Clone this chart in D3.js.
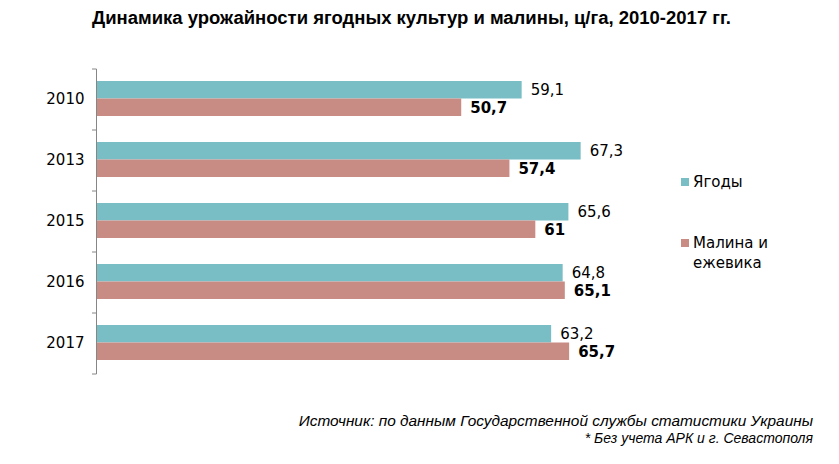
<!DOCTYPE html>
<html><head><meta charset="utf-8">
<script src="https://cdn.jsdelivr.net/npm/d3@7"></script>
<style>body{margin:0;background:#fff}</style>
</head><body>
<svg id="c" width="839" height="464"></svg>
<script>
const years = ["2010","2013","2015","2016","2017"];
const berries = [59.1, 67.3, 65.6, 64.8, 63.2];
const raspberry = [50.7, 57.4, 61, 65.1, 65.7];
const seriesNames = ["Ягоды", "Малина и ежевика"];
const colors = ["#79bdc5", "#c98c85"];
const title = "Динамика урожайности ягодных культур и малины, ц/га, 2010-2017 гг.";
const source1 = "Источник: по данным Государственной службы статистики Украины";
const source2 = "* Без учета АРК и г. Севастополя";

const fmt = v => String(v).replace(".", ",");
const svg = d3.select("#c");
const x = d3.scaleLinear().domain([0, 80]).range([96.5, 672]);
const y = d3.scaleBand().domain(years).range([69, 374]).paddingInner(0).paddingOuter(0);
const sub = d3.scaleBand().domain([0,1]).range([12, 47]);

svg.append("text").attr("x", 92).attr("y", 24)
  .attr("font-family","Liberation Sans, Arial").attr("font-weight","bold").attr("font-size",18)
  .attr("textLength",639).attr("lengthAdjust","spacingAndGlyphs")
  .attr("fill","#000").text(title);

const g = svg.append("g");
years.forEach((yr,i) => {
  const vals = [berries[i], raspberry[i]];
  vals.forEach((v,k) => {
    g.append("rect").attr("x", x(0)).attr("y", y(yr)+sub(k))
      .attr("width", x(v)-x(0)).attr("height", sub.bandwidth()).attr("fill", colors[k]);
    g.append("text").attr("x", x(v)+9).attr("y", y(yr)+sub(k)+sub.bandwidth()/2)
      .attr("dy","0.36em").attr("font-family","DejaVu Sans, Verdana").attr("font-size",15)
      .attr("font-weight", k===1 ? "bold" : "normal").attr("fill","#000").text(fmt(v));
  });
});

const axis = d3.axisLeft(y).tickSize(0).tickPadding(12);
const ag = svg.append("g").attr("transform","translate(96.5,0)").call(axis);
ag.select(".domain").attr("stroke","#868686");
ag.selectAll("text").attr("font-family","DejaVu Sans, Verdana").attr("font-size",15).attr("fill","#000");
const bounds = years.map(d=>y(d)).concat([y.range()[1]]);
svg.append("g").selectAll("line").data(bounds).join("line")
  .attr("x1",92).attr("x2",96.5).attr("y1",d=>d).attr("y2",d=>d).attr("stroke","#868686");
ag.select(".domain").attr("d", `M0,${bounds[0]}V${bounds[bounds.length-1]}`);

const lg = svg.append("g");
const legY = [182, 243];
seriesNames.forEach((n,k) => {
  lg.append("rect").attr("x",681).attr("y",legY[k]-4).attr("width",8).attr("height",8).attr("fill",colors[k]);
});
lg.append("text").attr("x",693).attr("y",legY[0]).attr("dy","0.36em")
  .attr("font-family","DejaVu Sans, Verdana").attr("font-size",15).text(seriesNames[0]);
const t2 = lg.append("text").attr("font-family","DejaVu Sans, Verdana").attr("font-size",15);
t2.append("tspan").attr("x",693).attr("y",legY[1]).attr("dy","0.36em").text("Малина и");
t2.append("tspan").attr("x",693).attr("y",legY[1]+20).attr("dy","0.36em").text("ежевика");

svg.append("text").attr("x",813).attr("y",426).attr("text-anchor","end")
  .attr("font-family","Liberation Sans, Arial").attr("font-style","italic").attr("font-size",15.4).text(source1);
svg.append("text").attr("x",813).attr("y",443).attr("text-anchor","end")
  .attr("font-family","Liberation Sans, Arial").attr("font-style","italic").attr("font-size",14).text(source2);
</script>
</body></html>
